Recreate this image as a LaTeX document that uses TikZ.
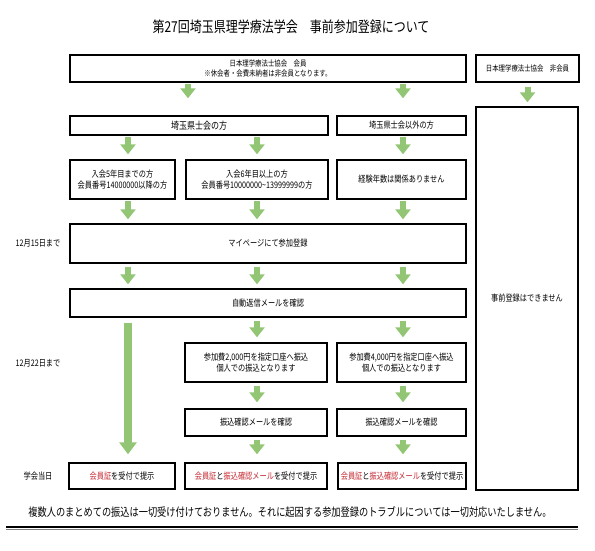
\documentclass[tikz,border=0pt]{standalone}
\usepackage{fontspec}
\setmainfont{Noto Sans CJK JP}[FakeStretch=0.8]
\usetikzlibrary{arrows.meta}
\definecolor{arrgreen}{RGB}{146,198,116}
\definecolor{regred}{RGB}{196,40,50}

\begin{document}
\begin{tikzpicture}[x=1pt, y=-1pt,
          box/.style={draw, line width=1.4pt, align=center, inner sep=0pt, font=\fontsize{9}{11.5}\selectfont},
          hbox/.style={box, font=\fontsize{8}{10.5}\selectfont},
          garrow/.style={arrgreen, line width=6pt, -{Triangle[width=15pt,length=10pt]}},
          longarrow/.style={garrow, line width=8pt, -{Triangle[width=17pt,length=12pt]}},
          day/.style={font=\fontsize{9}{11}\selectfont}]
        \useasboundingbox (0,0) rectangle (595,550);
        % arrow columns
        \coordinate (xa) at (188,0);
        \coordinate (x1) at (128,0);
        \coordinate (x2) at (257,0);
        \coordinate (x3) at (403,0);
        \node (title) at (291,27) {\fontsize{15}{18}\selectfont 第27回埼玉県理学療法学会　事前参加登録について};
        % members / non-members
        \node[hbox, minimum width=396, minimum height=27] (mem) at (268,68.5) {日本理学療法士協会　会員\\※休会者・会費未納者は非会員となります。};
        \node[hbox, minimum width=103, minimum height=27] (nm) at (527.5,68.5) {日本理学療法士協会　非会員};
        \node[box, minimum width=102, minimum height=383] (big) at (527,298.5) {事前登録はできません};
        \node[box, font=\fontsize{10}{12}\selectfont, minimum width=258, minimum height=19] (sk) at (199,125.5) {埼玉県士会の方};
        \node[box, minimum width=129, minimum height=19] (so) at (401.5,125.5) {埼玉県士会以外の方};
        \node[box, minimum width=105, minimum height=39] (ra) at (122.5,179.5) {入会5年目までの方\\会員番号14000000以降の方};
        \node[box, minimum width=142, minimum height=39] (rb) at (257,179.5) {入会6年目以上の方\\会員番号10000000\textasciitilde 13999999の方};
        \node[box, minimum width=129, minimum height=39] (rc) at (401.5,179.5) {経験年数は関係ありません};
        \node[box, minimum width=396, minimum height=39] (reg) at (268,243.5) {マイページにて参加登録};
        \node[box, minimum width=396, minimum height=28] (auto) at (268,303) {自動返信メールを確認};
        \node[box, minimum width=142, minimum height=39] (payb) at (256,362.5) {参加費2,000円を指定口座へ振込\\個人での振込となります};
        \node[box, minimum width=129, minimum height=39] (payc) at (401.5,362.5) {参加費4,000円を指定口座へ振込\\個人での振込となります};
        \node[box, minimum width=142, minimum height=27] (mailb) at (256,422.5) {振込確認メールを確認};
        \node[box, minimum width=129, minimum height=27] (mailc) at (401.5,422.5) {振込確認メールを確認};
        \node[box, minimum width=106, minimum height=26] (showa) at (122,476) {{\color{regred}会員証}を受付で提示};
        \node[box, minimum width=142, minimum height=26] (showb) at (256,476) {{\color{regred}会員証}と{\color{regred}振込確認メール}を受付で提示};
        \node[box, minimum width=128, minimum height=26] (showc) at (402,476) {{\color{regred}会員証}と{\color{regred}振込確認メール}を受付で提示};
        % dates
        \node[day] (d1) at (38,243.5) {12月15日まで};
        \node[day] (d2) at (38,363) {12月22日まで};
        \node[day] (d3) at (38,476) {学会当日};
        % arrows
        \draw[garrow, shorten <=1pt, shorten >=17pt] (mem.south -| xa) -- (sk.north -| xa);
        \draw[garrow, shorten <=1pt, shorten >=17pt] (mem.south -| x3) -- (so.north -| x3);
        \draw[garrow, shorten <=4pt, shorten >=4pt] (nm.south) -- (big.north -| nm.south);
        \foreach \a/\b/\x in {sk/ra/x1, sk/rb/x2, so/rc/x3}
          \draw[garrow, shorten <=1pt, shorten >=5pt] (\a.south -| \x) -- (\b.north -| \x);
        \foreach \a/\x in {ra/x1, rb/x2, rc/x3} {
          \draw[garrow, shorten <=1pt, shorten >=4pt] (\a.south -| \x) -- (reg.north -| \x);
          \draw[garrow, shorten <=3pt, shorten >=4pt] (reg.south -| \x) -- (auto.north -| \x);
        }
        \draw[longarrow, shorten <=5pt, shorten >=8pt] (auto.south -| x1) -- (showa.north -| x1);
        \foreach \p/\m/\s/\x in {payb/mailb/showb/x2, payc/mailc/showc/x3} {
          \draw[garrow, shorten <=3pt, shorten >=5pt] (auto.south -| \x) -- (\p.north -| \x);
          \draw[garrow, shorten <=3pt, shorten >=6pt] (\p.south -| \x) -- (\m.north -| \x);
          \draw[garrow, shorten <=3pt, shorten >=8pt] (\m.south -| \x) -- (\s.north -| \x);
        }
        \node[font=\fontsize{11.5}{14}\selectfont] (note) at (290,512) {複数人のまとめての振込は一切受け付けておりません。それに起因する参加登録のトラブルについては一切対応いたしません。};
        \draw[line width=1.5pt] (6,527) -- (578,527);
        \draw[gray, line width=0.6pt] (6,529.5) -- (578,529.5);
      \end{tikzpicture}
\end{document}
